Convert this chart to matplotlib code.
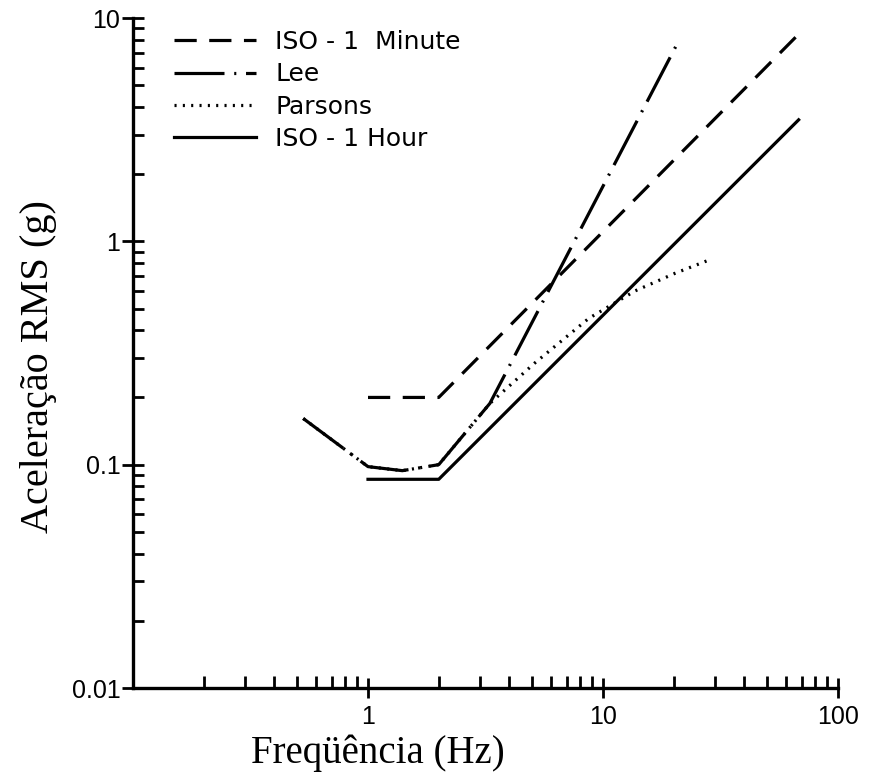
import matplotlib
matplotlib.use("Agg")
import matplotlib.pyplot as plt
from matplotlib.ticker import LogLocator, FixedLocator, NullFormatter

# values (frequency in Hz, acceleration in g)
freq_iso_min = [1.0, 2.0, 66.0]
acc_iso_min = [0.2, 0.2, 8.2]

freq_lee = [0.53, 1.0, 1.4, 2.0, 3.3, 21.0]
acc_lee = [0.161, 0.098, 0.094, 0.1, 0.188, 7.9]

freq_parsons = [0.53, 1.0, 1.4, 2.0, 3.3, 5.1, 8.7, 13.7, 20.3, 28.7]
acc_parsons = [0.161, 0.098, 0.094, 0.1, 0.188, 0.284, 0.452, 0.60, 0.72, 0.83]

freq_iso_hr = [1.0, 2.0, 68.0]
acc_iso_hr = [0.086, 0.086, 3.5]

x_ticks = [1, 10, 100]
x_tick_labels = ["1", "10", "100"]
y_ticks = [0.01, 0.1, 1, 10]
y_tick_labels = ["0.01", "0.1", "1", "10"]

plt.rcParams['lines.scale_dashes'] = False
tick_font = ['Liberation Sans Narrow', 'Liberation Sans', 'DejaVu Sans']
label_font = ['Liberation Serif', 'DejaVu Serif']

fig = plt.figure(figsize=(8.74, 7.82), dpi=100)
ax = fig.add_axes([133 / 874, 1 - 688 / 782, 705 / 874, 670 / 782])

lw = 2.3
ax.plot(freq_iso_min, acc_iso_min, color='black', lw=lw,
        linestyle=(0, (16, 9)), label='ISO - 1  Minute')
ax.plot(freq_lee, acc_lee, color='black', lw=lw,
        linestyle=(0, (36, 7, 1.5, 7)), label='Lee')
ax.plot(freq_parsons, acc_parsons, color='black', lw=lw,
        linestyle=(0, (1.5, 4.5)), label='Parsons')
ax.plot(freq_iso_hr, acc_iso_hr, color='black', lw=lw,
        linestyle='-', label='ISO - 1 Hour')

ax.set_xscale('log')
ax.set_yscale('log')
ax.set_xlim(0.1, 100)
ax.set_ylim(0.01, 10)

ax.spines['top'].set_visible(False)
ax.spines['right'].set_visible(False)
ax.spines['left'].set_linewidth(2.4)
ax.spines['bottom'].set_linewidth(2.4)

ax.xaxis.set_major_locator(FixedLocator(x_ticks))
ax.set_xticklabels(x_tick_labels)
ax.xaxis.set_minor_locator(LogLocator(base=10, subs=range(2, 10)))
ax.xaxis.set_minor_formatter(NullFormatter())
ax.yaxis.set_major_locator(FixedLocator(y_ticks))
ax.set_yticklabels(y_tick_labels)
ax.yaxis.set_minor_locator(LogLocator(base=10, subs=range(2, 10)))
ax.yaxis.set_minor_formatter(NullFormatter())

ax.tick_params(axis='x', which='major', direction='inout', length=14, width=2, pad=5)
ax.tick_params(axis='x', which='minor', direction='in', length=9, width=2)
ax.tick_params(axis='y', which='major', direction='inout', length=16, width=2, pad=1)
ax.tick_params(axis='y', which='minor', direction='in', length=8, width=2)

for lab in ax.get_xticklabels() + ax.get_yticklabels():
    lab.set_family(tick_font)
    lab.set_fontsize(18)

ax.set_xlabel('Freqüência (Hz)', family=label_font, fontsize=28)
ax.set_ylabel('Aceleração RMS (g)', family=label_font, fontsize=29)
ax.xaxis.set_label_coords(0.348, -0.07)
ax.yaxis.set_label_coords(-0.108, 0.48)

ax.legend(loc='upper left', bbox_to_anchor=(0.058, 0.982), frameon=False,
          prop={'family': 'DejaVu Sans', 'size': 18}, handlelength=3.3,
          handletextpad=0.75, labelspacing=0.33, borderpad=0, borderaxespad=0)

fig.savefig('out.png', dpi=100)
